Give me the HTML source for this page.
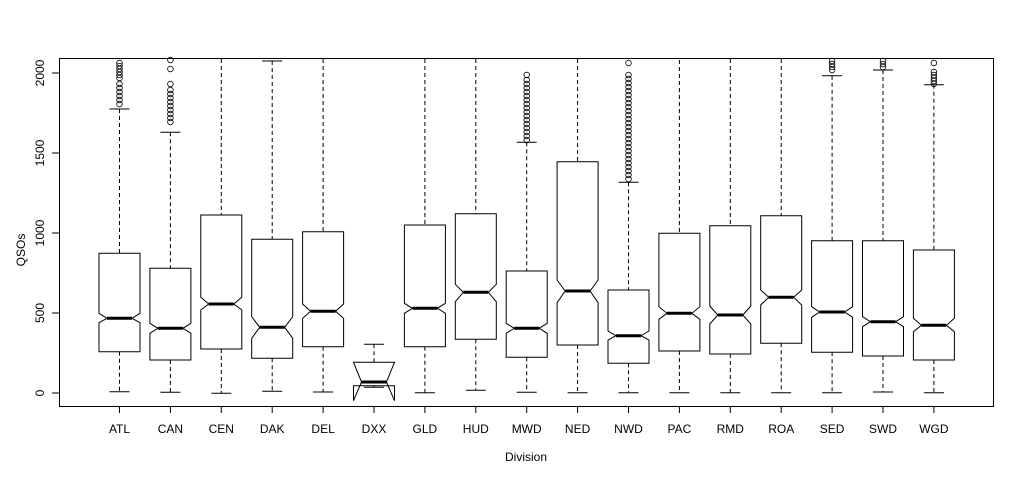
<!DOCTYPE html>
<html><head><meta charset="utf-8"><style>
html,body{margin:0;padding:0;background:#fff;}
svg{display:block;font-family:"Liberation Sans",sans-serif;}
</style></head><body>
<svg id="s" width="1024" height="480" xmlns="http://www.w3.org/2000/svg">
<rect x="0" y="0" width="1024" height="480" fill="#fff"/>
<rect x="59.5" y="58.5" width="934" height="348" fill="none" stroke="#000" stroke-width="1"/>
<g font-size="12" fill="#000" text-anchor="middle">
<text transform="translate(44,393) rotate(-90)">0</text>
<text transform="translate(44,313) rotate(-90)">500</text>
<text transform="translate(44,233) rotate(-90)">1000</text>
<text transform="translate(44,153) rotate(-90)">1500</text>
<text transform="translate(44,73) rotate(-90)">2000</text>
<text transform="translate(25,250) rotate(-90)">QSOs</text>
<text x="526" y="461">Division</text>
</g>
<g id="g" stroke="#000" fill="none"></g>
<g id="t" font-size="12" text-anchor="middle"></g>
</svg>
<script>
const d=[
["ATL",109,253.3,313.3,318.3,322.7,351.7,391.7,[63,66,69,72,75,78,84,88,92,96,100,104]],
["CAN",132.3,268.3,323.3,328.3,333.3,360,392.3,[60,69,84,90,94,98,102,106,110,114,118,122]],
["CEN",59,215,297.3,304,310,349,393.3,[]],
["DAK",61,239.3,316.7,327.3,338.3,358.3,391.3,[]],
["DEL",59,231.7,304,311.3,318.3,346.7,392,[]],
["DXX",344.3,362.3,362.3,382,400.7,385.7,387.3,[]],
["GLD",59,225,303.3,308.3,313.3,346.7,392.7,[]],
["HUD",59,213.7,284.3,292.3,301.7,339.3,390.3,[]],
["MWD",142.3,271,323.3,328.3,333.3,357.3,392.3,[75,80,84,88,92,96,100,104,108,112,116,120,124,128,132,136,140]],
["NED",59,161.7,280,291,302.7,345,392.7,[]],
["NWD",182.3,290,331,335.7,340,363.3,392.7,[63,75,79,83,87,91,95,99,103,107,111,115,119,123,127,131,135,139,143,147,151,155,159,163,167,171,175,179]],
["PAC",60,233.3,306.7,313.3,319.3,351,392.7,[]],
["RMD",59,225.7,306,315,324,354,392.7,[]],
["ROA",59,215.7,290,297.3,305,343.3,392.7,[]],
["SED",75.7,240.7,306.7,312,317.3,352.3,392.7,[61,64,67,70]],
["SWD",70,240.7,316.7,321.7,326.7,356,392,[61,64,67]],
["WGD",84.7,250,318.3,325.3,331.7,360,392.7,[63,72,75,78,81,84]]];
const g=document.getElementById('g'),t=document.getElementById('t'),NS="http://www.w3.org/2000/svg";
function el(p,n,a){const e=document.createElementNS(NS,n);for(const k in a)e.setAttribute(k,a[k]);p.appendChild(e);return e;}
d.forEach((r,i)=>{
 const c=119.5+i*50.9,h=20.5,w=8,[nm,uw,top,nt,med,nb,bot,lw,out]=r;
 const L=c-h,R=c+h;
 el(g,'line',{x1:c,y1:uw,x2:c,y2:top,'stroke-dasharray':'4,3'});
 el(g,'line',{x1:c,y1:bot,x2:c,y2:lw,'stroke-dasharray':'4,3'});
 if(uw>60)el(g,'line',{x1:c-10,y1:uw,x2:c+10,y2:uw});
 el(g,'line',{x1:c-10,y1:lw,x2:c+10,y2:lw});
 el(g,'polygon',{points:`${L},${top} ${R},${top} ${R},${nt} ${R-w},${med} ${R},${nb} ${R},${bot} ${L},${bot} ${L},${nb} ${L+w},${med} ${L},${nt}`,fill:'#fff'});
 el(g,'line',{x1:L+w,y1:med,x2:R-w,y2:med,'stroke-width':3});
 out.forEach(y=>el(g,'circle',{cx:c,cy:y,r:2.8,'stroke-width':0.8}));
 el(g,'line',{x1:c,y1:406,x2:c,y2:413});
 const tx=el(t,'text',{x:c,y:433});tx.textContent=nm;
});
[393,313,233,153,73].forEach(y=>el(g,'line',{x1:52,y1:y,x2:59,y2:y}));
</script>
</body></html>
